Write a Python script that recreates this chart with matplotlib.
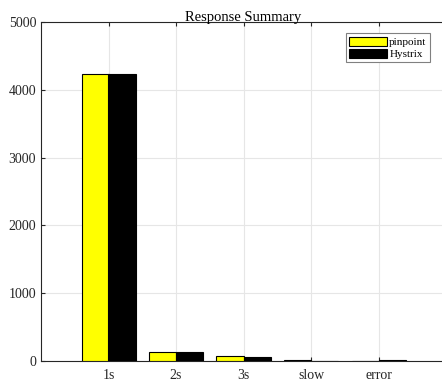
import matplotlib.pyplot as plt
import numpy as np

plt.rcParams['font.family'] = ['Liberation Serif', 'DejaVu Serif']

categories = ['1s', '2s', '3s', 'slow', 'error']
pinpoint = [4230, 140, 70, 10, 5]
hystrix = [4230, 140, 65, 0, 20]

fig = plt.figure(figsize=(4.42, 3.83), dpi=100)
ax = fig.add_axes([41 / 442, 22 / 383, 405 / 442, 339 / 383])

x = np.arange(1, len(categories) + 1)
w = 0.4
ax.bar(x - w / 2, pinpoint, w, color='yellow', edgecolor='black', linewidth=0.8, label='pinpoint', zorder=3)
ax.bar(x + w / 2, hystrix, w, color='black', edgecolor='black', linewidth=0.8, label='Hystrix', zorder=3)

ax.set_xlim(0, 6)
ax.set_ylim(0, 5000)
ax.set_xticks(x)
ax.set_xticklabels(categories)
ax.set_yticks([0, 1000, 2000, 3000, 4000, 5000])
ax.tick_params(direction='in', length=3, labelsize=10, colors='#262626', top=True, right=True)
ax.tick_params(axis='x', pad=6)
ax.grid(True, color='#e6e6e6', linewidth=0.8, zorder=0)
for s in ax.spines.values():
    s.set_color('#262626')
    s.set_linewidth(0.8)

ax.set_title('Response Summary', fontsize=10.5, pad=1)
leg = ax.legend(loc='upper right', bbox_to_anchor=(0.96, 0.967), fontsize=8,
                fancybox=False, framealpha=1, edgecolor='#808080',
                handlelength=3.4, handleheight=0.9, borderpad=0.3, labelspacing=0.15,
                handletextpad=0.2, borderaxespad=0)
leg.get_frame().set_linewidth(0.8)

fig.savefig('out.png', dpi=100)
